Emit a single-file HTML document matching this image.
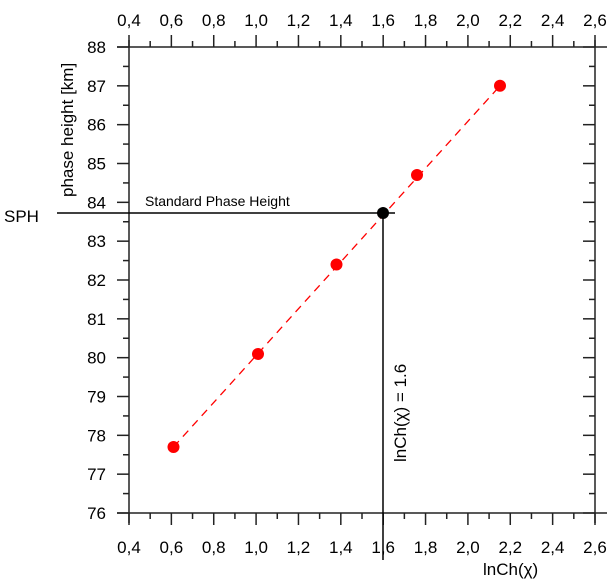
<!DOCTYPE html>
<html><head><meta charset="utf-8"><style>body{margin:0;background:#fff}svg{display:block}text{font-family:"Liberation Sans",sans-serif;fill:#000}</style></head><body>
<svg width="614" height="585" xmlns="http://www.w3.org/2000/svg">
<g stroke="#222" stroke-width="1.5" fill="none">
<line x1="117" y1="47" x2="607" y2="47"/>
<line x1="117" y1="513" x2="607" y2="513"/>
<line x1="129" y1="40" x2="129" y2="523"/>
<line x1="595" y1="40" x2="595" y2="523"/>
</g>
<g id="ticks" stroke="#222" stroke-width="1.5"></g>
<g id="labels" font-size="17"></g>
<text x="0" y="0" font-size="17" transform="translate(73,197) rotate(-90)">phase height [km]</text>
<text x="4" y="222" font-size="17">SPH</text>
<text x="145" y="206" font-size="14">Standard Phase Height</text>
<text x="0" y="0" font-size="17" transform="translate(406,462) rotate(-90)">lnCh(χ) = 1.6</text>
<text x="483" y="575" font-size="17">lnCh(χ)</text>
<line x1="57" y1="213" x2="395" y2="213" stroke="#000" stroke-width="1.5"/>
<line x1="383" y1="213" x2="383" y2="560" stroke="#000" stroke-width="1.5"/>
<line x1="173.5" y1="447" x2="500" y2="85.8" stroke="#f00" stroke-width="1.3" stroke-dasharray="8,6"/>
<g fill="#f00">
<circle cx="173.5" cy="447" r="6"/>
<circle cx="258" cy="354" r="6"/>
<circle cx="336.5" cy="264.5" r="6"/>
<circle cx="417" cy="175" r="6"/>
<circle cx="500" cy="85.8" r="6"/>
</g>
<circle cx="383" cy="213" r="6" fill="#000"/>
<script>
var t=document.getElementById('ticks'),l=document.getElementById('labels'),ns='http://www.w3.org/2000/svg';
function ln(a,b,c,d){var e=document.createElementNS(ns,'line');e.setAttribute('x1',a);e.setAttribute('y1',b);e.setAttribute('x2',c);e.setAttribute('y2',d);t.appendChild(e);}
function tx(x,y,s,a){var e=document.createElementNS(ns,'text');e.setAttribute('x',x);e.setAttribute('y',y);e.setAttribute('text-anchor',a);e.textContent=s;l.appendChild(e);}
for(var i=0;i<=22;i++){var x=129+i*466/22,M=i%2==0;
ln(x,47,x,M?35:41);ln(x,513,x,M?525:519);
if(M){var s=(0.4+i*0.1).toFixed(1).replace('.',',');tx(x,26,s,'middle');tx(x,553,s,'middle');}}
for(var j=0;j<=24;j++){var y=513-j*466/24,M=j%2==0;
ln(129,y,M?117:123,y);ln(595,y,M?583:589,y);
if(M)tx(106,y+6,String(76+j/2),'end');}
</script>
</svg>
</body></html>
